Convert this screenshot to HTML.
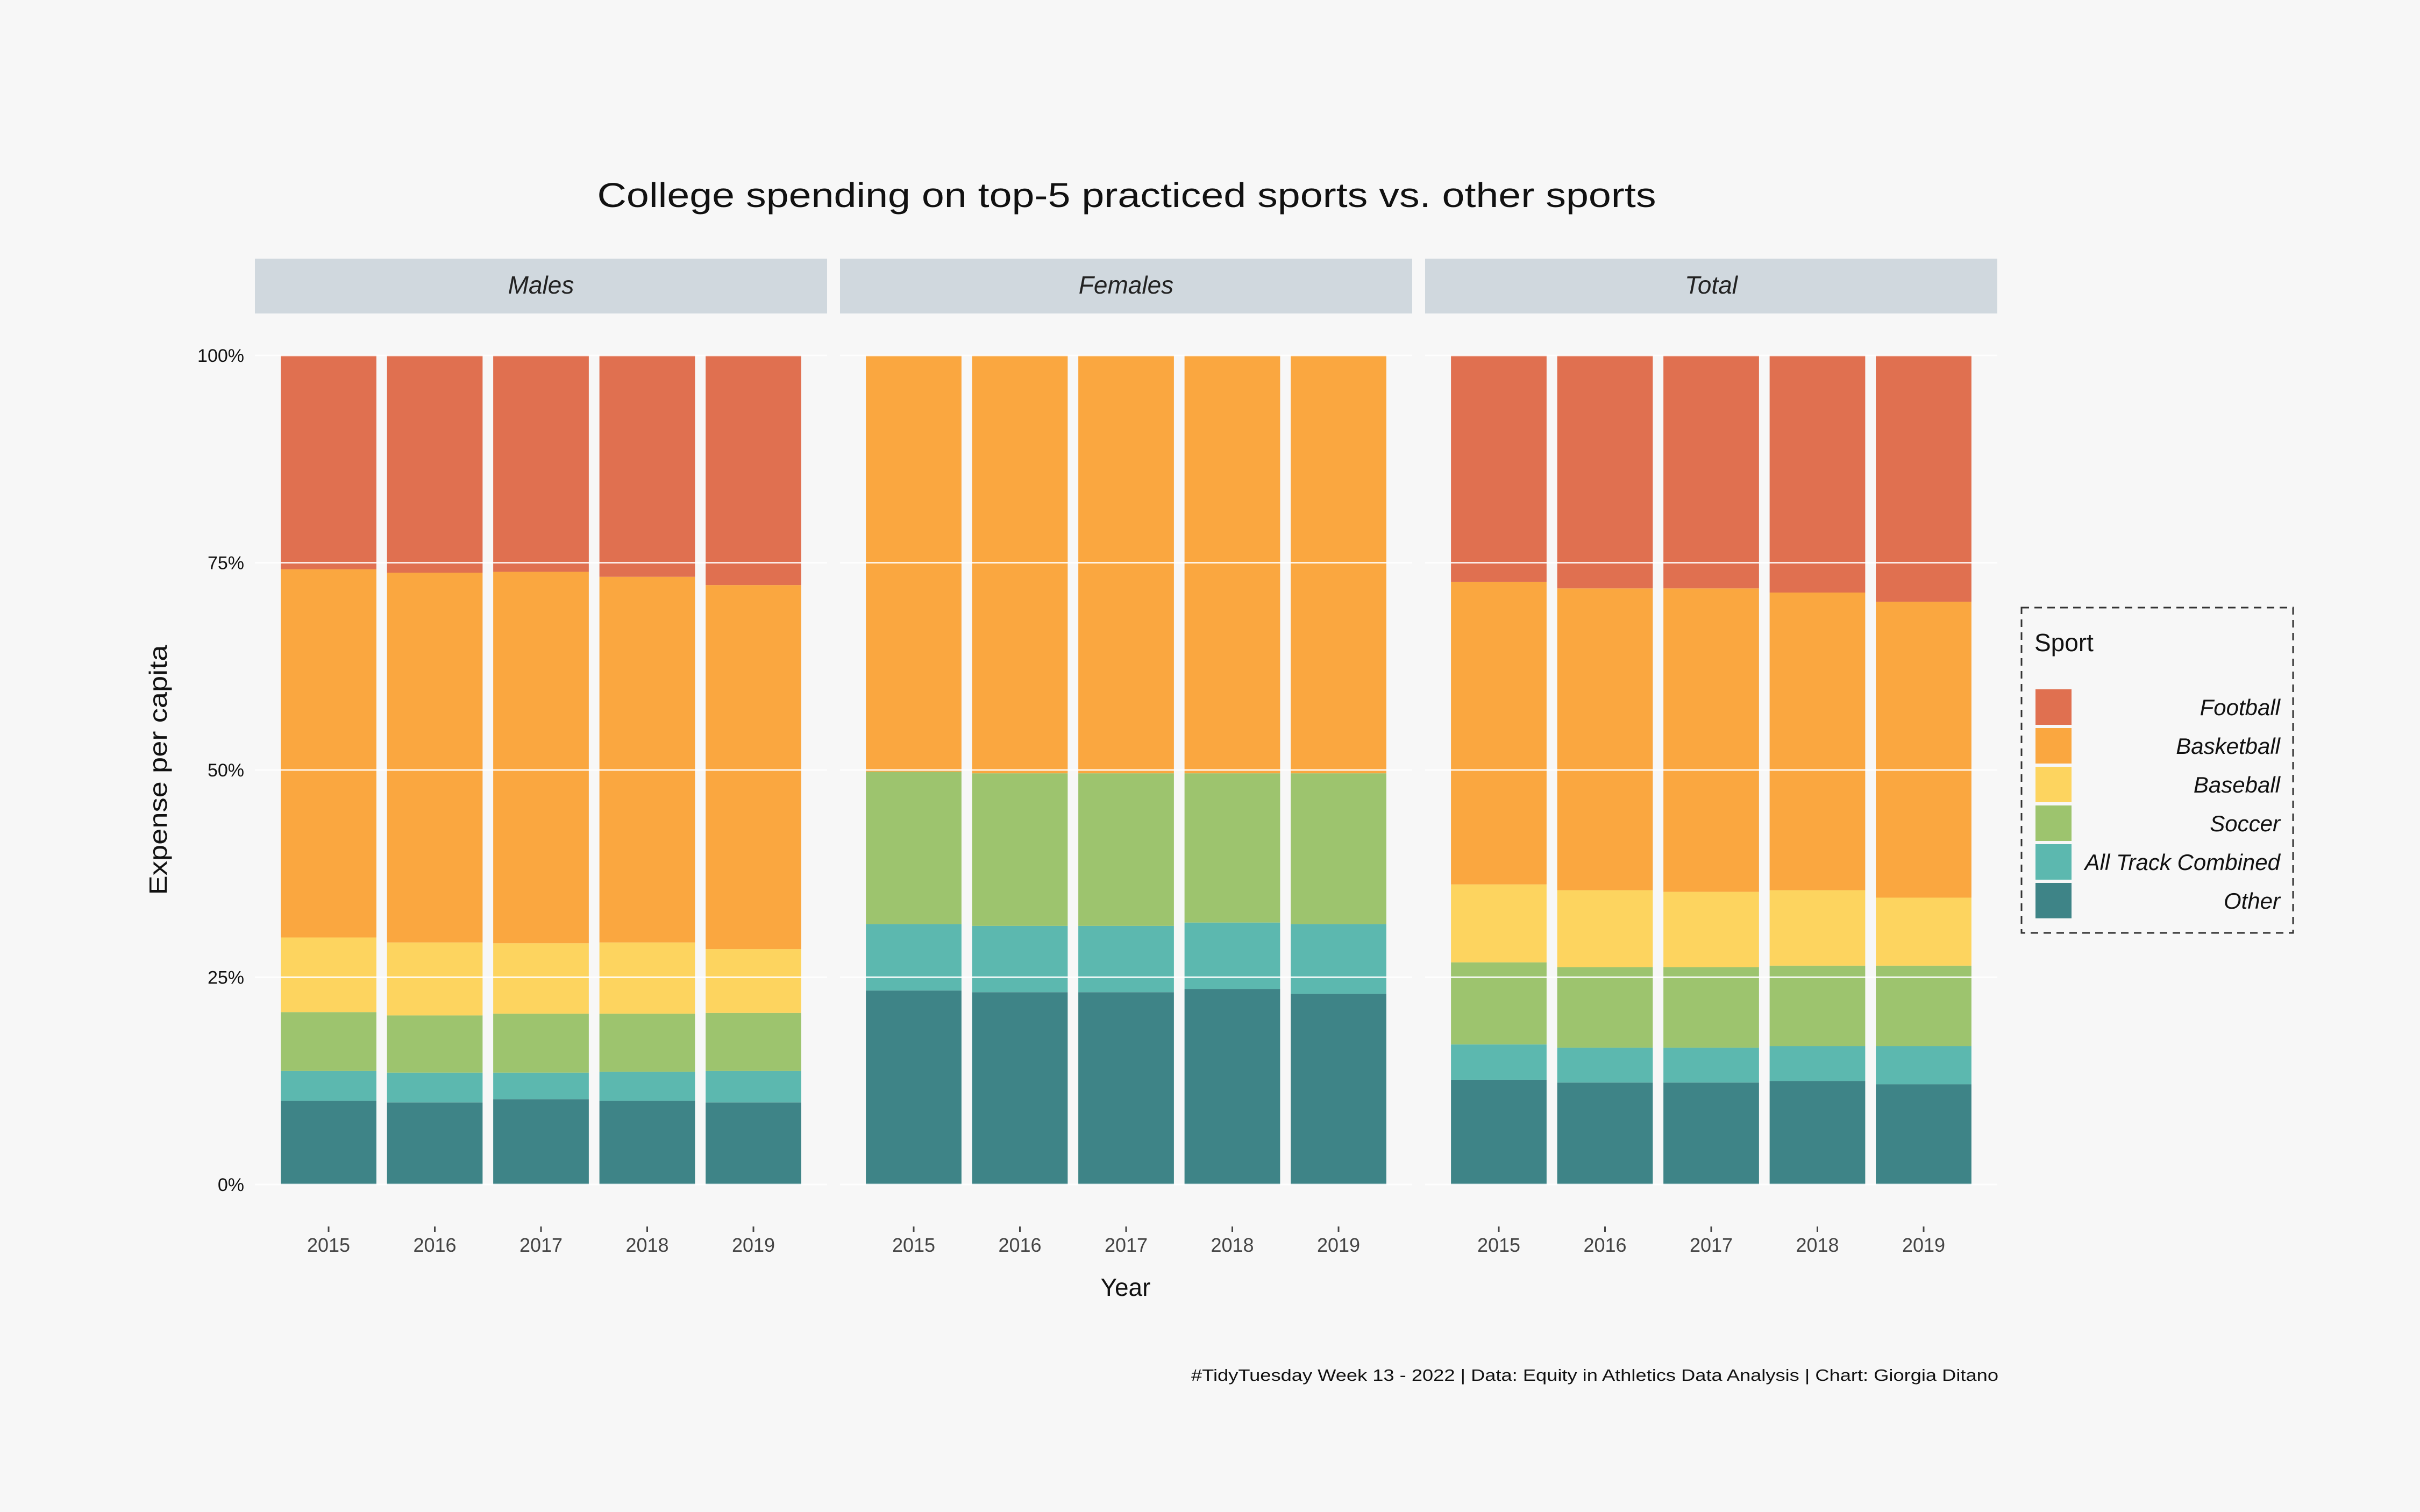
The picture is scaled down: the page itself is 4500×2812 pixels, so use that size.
<!DOCTYPE html>
<html><head><meta charset="utf-8"><style>
html,body{margin:0;padding:0;background:#F7F7F7;}
svg{display:block;}
text{font-family:"Liberation Sans",sans-serif;}
</style></head><body>
<svg id="chart" width="4500" height="2812" viewBox="0 0 4500 2812" xmlns="http://www.w3.org/2000/svg">
<rect x="0" y="0" width="4500" height="2812" fill="#F7F7F7"/>
<text x="2095" y="385" font-size="64" text-anchor="middle" fill="#111" textLength="1969" lengthAdjust="spacingAndGlyphs">College spending on top-5 practiced sports vs. other sports</text>
<g id="panels"></g>
<text transform="translate(310,1432) rotate(-90)" font-size="46" text-anchor="middle" fill="#111" textLength="465" lengthAdjust="spacingAndGlyphs">Expense per capita</text>
<text x="2093" y="2410" font-size="46" text-anchor="middle" fill="#111">Year</text>
<text x="3716" y="2568" font-size="31" text-anchor="end" fill="#111" textLength="1501" lengthAdjust="spacingAndGlyphs">#TidyTuesday Week 13 - 2022 | Data: Equity in Athletics Data Analysis | Chart: Giorgia Ditano</text>
<g>
<rect x="3759" y="1130" width="505" height="605" fill="none" stroke="#333" stroke-width="3" stroke-dasharray="14,10"/>
<text x="3783" y="1211" font-size="46" fill="#111">Sport</text>
<g id="legend-items"></g>
</g>
</svg>
<script>
const years = ["2015","2016","2017","2018","2019"];
const facets = ["Males","Females","Total"];
const sports = ["Other","All Track Combined","Soccer","Baseball","Basketball","Football"];
const colors = ["#3E8487","#5CB8AF","#9DC46E","#FDD45F","#FAA740","#E07050"];
const yTicks = [0,25,50,75,100];
const yTickLabels = ["0%","25%","50%","75%","100%"];
// shares per sport (%), bottom to top
const malesOther = [10.1,9.9,10.3,10.1,9.9];
const malesTrack = [3.6,3.6,3.2,3.5,3.8];
const malesSoccer = [7.1,6.9,7.1,7.0,7.0];
const malesBaseball = [9.0,8.8,8.5,8.6,7.7];
const malesBasketball = [44.4,44.6,44.8,44.1,43.9];
const malesFootball = [25.8,26.2,26.1,26.7,27.7];
const femalesOther = [23.4,23.2,23.2,23.6,23.0];
const femalesTrack = [8.0,8.0,8.0,8.0,8.4];
const femalesSoccer = [18.4,18.4,18.4,18.0,18.2];
const femalesBaseball = [0,0,0,0,0];
const femalesBasketball = [50.2,50.4,50.4,50.4,50.4];
const femalesFootball = [0,0,0,0,0];
const totalOther = [12.6,12.3,12.3,12.5,12.1];
const totalTrack = [4.3,4.2,4.2,4.2,4.6];
const totalSoccer = [9.9,9.7,9.7,9.7,9.7];
const totalBaseball = [9.4,9.3,9.1,9.1,8.2];
const totalBasketball = [36.5,36.4,36.6,35.9,35.7];
const totalFootball = [27.3,28.1,28.1,28.6,29.7];
const facetData = [
 [malesOther,malesTrack,malesSoccer,malesBaseball,malesBasketball,malesFootball],
 [femalesOther,femalesTrack,femalesSoccer,femalesBaseball,femalesBasketball,femalesFootball],
 [totalOther,totalTrack,totalSoccer,totalBaseball,totalBasketball,totalFootball]
];
const NS="http://www.w3.org/2000/svg";
function mk(tag,attrs,parent){const e=document.createElementNS(NS,tag);for(const k in attrs)e.setAttribute(k,attrs[k]);parent.appendChild(e);return e;}
const panelW=1064, panelGap=24, panelX0=474, plotTop=661, plotBot=2203;
function yScale(v){return plotBot-(v/100)*(plotBot-plotTop);}
const step=197.5;
function xScale(p,i){const cx=panelX0+p*(panelW+panelGap)+panelW/2;return cx+(i-(years.length-1)/2)*step;}
const panels=document.getElementById('panels');
facets.forEach((f,p)=>{
 const px=panelX0+p*(panelW+panelGap);
 const g=mk('g',{},panels);
 
 
 const strip=mk('rect',{x:px,y:481,width:panelW,height:102,fill:'#D0D8DE'},g);
 
 
 const st=mk('text',{x:px+panelW/2,y:546,'font-size':46,'font-style':'italic','text-anchor':'middle',fill:'#222'},g);
 st.textContent=f;
 
 
 years.forEach((yr,i)=>{
  let cum=0;
  const cx=xScale(p,i);
  sports.forEach((s,k)=>{
   const v=facetData[p][k][i];
   if(v>0){
    const r=mk('rect',{x:cx-0.45*step,y:yScale(cum+v),width:0.9*step,height:yScale(cum)-yScale(cum+v),fill:colors[k]},g);
    
    
   }
   cum+=v;
  });
  const tk=mk('line',{x1:cx,x2:cx,y1:2281,y2:2291,stroke:'#444','stroke-width':3},g);
  
  
  const tl=mk('text',{x:cx,y:2328,'font-size':36,'text-anchor':'middle',fill:'#444'},g);
  tl.textContent=yr;
  
  
 });
 yTicks.forEach((t,j)=>{
  const gl=mk('line',{x1:px,x2:px+panelW,y1:yScale(t),y2:yScale(t),stroke:'#FFFFFF','stroke-width':3,'stroke-opacity':0.85},g);
  
  
  if(p===0){
   const yl=mk('text',{x:454,y:yScale(t)+12,'font-size':34,'text-anchor':'end',fill:'#111'},g);
   yl.textContent=yTickLabels[j];
   
   
  }
 });
});
const li=document.getElementById('legend-items');
const legendOrder=[5,4,3,2,1,0];
legendOrder.forEach((k,n)=>{
 const y=1282+n*72;
 const key=mk('rect',{x:3785,y:y,width:67,height:66,fill:colors[k]},li);
 
 
 const t=mk('text',{x:4240,y:y+48,'font-size':42,'font-style':'italic','text-anchor':'end',fill:'#111'},li);
 t.textContent=sports[k];
 
 
});
</script>
</body></html>
